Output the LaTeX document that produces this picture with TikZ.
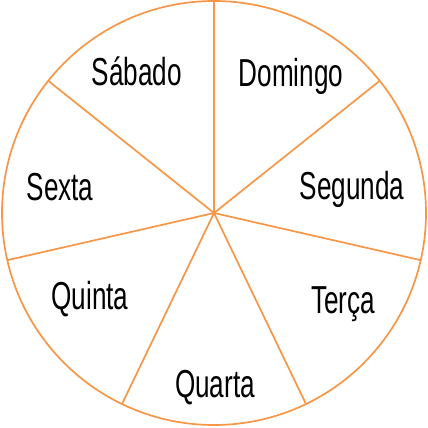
\documentclass[tikz,border=0pt]{standalone}
\usepackage{fontspec}
\setmainfont[FakeStretch=0.67]{Liberation Sans}
\usepackage{tikz}
\definecolor{rimorange}{HTML}{F79646}

\begin{document}
\begin{tikzpicture}[x=1pt, y=-1pt,
    day/.style={anchor=base, inner sep=0pt, font=\fontsize{39}{42}\selectfont},
    spoke/.style={draw=rimorange, line width=1.7pt}]
  \useasboundingbox (0,0) rectangle (428,428);
  \coordinate (c) at (214,213);
  \draw[spoke] (c) circle[radius=212pt];
  \foreach \i in {0,...,6}
    \draw[spoke] (c) -- ++(-90+\i*360/7:212);
  \node[day] (dom) at (291,86)  {Domingo};
  \node[day] (sab) at (137,85)  {Sábado};
  \node[day] (seg) at (352,199) {Segunda};
  \node[day] (sex) at (60,200)  {Sexta};
  \node[day] (ter) at (343,313) {Terça};
  \node[day] (qui) at (90,309)  {Quinta};
  \node[day] (qua) at (215,397) {Quarta};
\end{tikzpicture}
\end{document}
